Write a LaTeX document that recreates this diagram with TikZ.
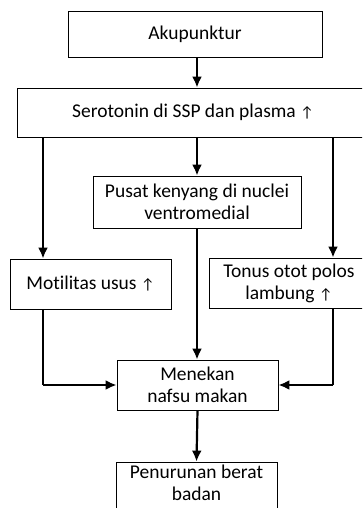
\documentclass[tikz,border=0pt]{standalone}
\usepackage{fontspec}
\setmainfont{Carlito}[Ligatures={NoCommon,NoContextual}]
\usetikzlibrary{arrows.meta}
\usetikzlibrary{positioning}
\newcommand{\naik}{{\fontsize{15}{15}\selectfont↑}}
\begin{document}
\begin{tikzpicture}[x=1pt,y=-1pt,
	kotak/.style={draw,line width=0.8pt,inner sep=0pt,align=center,
		font=\fontsize{19.5}{22}\selectfont},
	panah/.style={line width=2.2pt,-{Latex[length=11pt,width=10pt]}},
	garis/.style={line width=2.2pt}]
	\clip (0,0) rectangle (362,508);
	\node [kotak, minimum width=254pt, minimum height=46pt] (aku) at (195,34) {Akupunktur};
	\node [kotak, minimum width=352pt, minimum height=49pt] (sero) at (193,112.5) {Serotonin di SSP dan plasma \naik};
	\node [kotak, minimum width=208pt, minimum height=52pt] (pusat) at (197,202) {Pusat kenyang di nuclei\\ventromedial};
	\node [kotak, minimum width=161pt, minimum height=50pt] (moti) at (90.5,284) {Motilitas usus \naik};
	\node [kotak, minimum width=160pt, minimum height=50pt] (tonus) at (289,283) {Tonus otot polos\\lambung \naik};
	\node [kotak, minimum width=161pt, minimum height=50pt] (menekan) at (197.5,385) {Menekan\\nafsu makan};
	\node [kotak, minimum width=161pt, minimum height=50pt, text depth=8pt] (turun) at (196.5,487) {Penurunan berat\\badan};
	\coordinate (kiri) at (43,0);
	\coordinate (tengah) at (197,0);
	\coordinate (kanan) at (333,0);
	\draw [panah] (aku.south -| tengah)--(sero.north -| tengah);
	\draw [panah] (sero.south -| tengah)--(pusat.north -| tengah);
	\draw [panah] (sero.south -| kiri)--(moti.north -| kiri);
	\draw [panah] (sero.south -| kanan)--(tonus.north -| kanan);
	\draw [panah] (pusat.south -| tengah)--(menekan.north -| tengah);
	\draw [garis] (moti.south -| kiri)--(menekan.west -| kiri);
	\draw [panah] (menekan.west -| kiri)--(menekan.west);
	\draw [garis] (tonus.south -| kanan)--(menekan.east -| kanan);
	\draw [panah] (menekan.east -| kanan)--(menekan.east);
	\draw [panah] (menekan.south)--(turun.north);
\end{tikzpicture}
\end{document}
